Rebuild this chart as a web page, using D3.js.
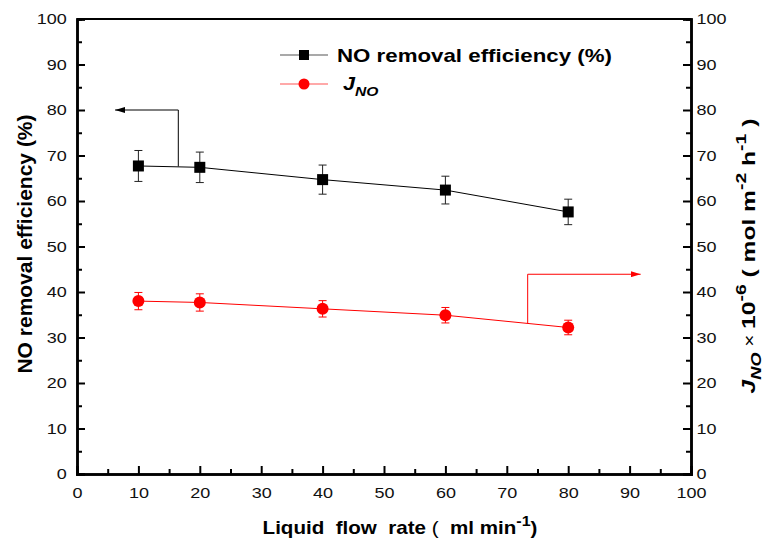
<!DOCTYPE html>
<html>
<head>
<meta charset="utf-8">
<script src="https://cdn.jsdelivr.net/npm/d3@7"></script>
<style>
  body { margin: 0; background: #fff; }
  text { font-family: Arial, "Liberation Sans", sans-serif; }
</style>
</head>
<body>
<script>
// data
var flowRate = [10, 20, 40, 60, 80];
var efficiency = [67.7, 67.4, 64.7, 62.4, 57.6];
var efficiencyErr = [3.4, 3.35, 3.2, 3.05, 2.8];
var jNO = [38.0, 37.7, 36.3, 34.9, 32.2];
var jNOErr = [1.9, 1.9, 1.8, 1.7, 1.6];
var xTicks = [0, 10, 20, 30, 40, 50, 60, 70, 80, 90, 100];
var yTicks = [0, 10, 20, 30, 40, 50, 60, 70, 80, 90, 100];

var width = 764, height = 540;
var m = {left: 77, right: 73, top: 19, bottom: 66};
var stretch = 1.2; // the text in the figure is drawn wide

var svg = d3.select("body").append("svg")
    .attr("width", width)
    .attr("height", height);

var x = d3.scaleLinear().domain([0, 100]).range([m.left, width - m.right]);
var y = d3.scaleLinear().domain([0, 100]).range([height - m.bottom, m.top]);
var y2 = d3.scaleLinear().domain([0, 100]).range([height - m.bottom, m.top]);

// stretch a text element along its baseline so it spans len pixels
function fitText(t, base, len) {
  var w = t.node().getComputedTextLength();
  t.attr("transform", base + " scale(" + (len / w) + ",1)");
}

// arrow heads
var defs = svg.append("defs");
defs.append("marker").attr("id", "arrBlack")
    .attr("viewBox", "0 0 10 6").attr("refX", 10).attr("refY", 3)
    .attr("markerWidth", 10).attr("markerHeight", 6)
    .attr("markerUnits", "userSpaceOnUse").attr("orient", "auto")
    .append("path").attr("d", "M0,0 L10,3 L0,6 Z").attr("fill", "#000");
defs.append("marker").attr("id", "arrRed")
    .attr("viewBox", "0 0 10 6").attr("refX", 10).attr("refY", 3)
    .attr("markerWidth", 10).attr("markerHeight", 6)
    .attr("markerUnits", "userSpaceOnUse").attr("orient", "auto")
    .append("path").attr("d", "M0,0 L10,3 L0,6 Z").attr("fill", "red");

// axes - ticks point inward
var minor = d3.range(5, 100, 10);

var gx = svg.append("g").attr("transform", "translate(0," + y(0) + ")");
gx.call(d3.axisBottom(x).tickValues(xTicks).tickSize(-8).tickPadding(13));
gx.append("g").call(d3.axisBottom(x).tickValues(minor).tickSize(-5).tickFormat(""));

var gy = svg.append("g").attr("transform", "translate(" + x(0) + ",0)");
gy.call(d3.axisLeft(y).tickValues(yTicks).tickSize(-8).tickPadding(8.5));
gy.append("g").call(d3.axisLeft(y).tickValues(minor).tickSize(-5).tickFormat(""));

var gy2 = svg.append("g").attr("transform", "translate(" + x(100) + ",0)");
gy2.call(d3.axisRight(y2).tickValues(yTicks).tickSize(-8).tickPadding(4.5));
gy2.append("g").call(d3.axisRight(y2).tickValues(minor).tickSize(-5).tickFormat(""));

svg.selectAll(".domain").attr("stroke-width", 2.5);
svg.selectAll(".tick line").attr("stroke-width", 2);
svg.selectAll(".tick text").attr("font-size", 15).attr("fill", "#111")
    .attr("transform", "scale(" + stretch + ",1)");

// top frame line
svg.append("line")
    .attr("x1", x(0)).attr("x2", x(100))
    .attr("y1", y(100)).attr("y2", y(100))
    .attr("stroke", "#000").attr("stroke-width", 2);

// NO removal efficiency series
var line1 = d3.line().x(function(d, i){ return x(flowRate[i]); }).y(function(d){ return y(d); });
svg.append("path").datum(efficiency)
    .attr("d", line1).attr("fill", "none").attr("stroke", "#000").attr("stroke-width", 1);

var eb1 = svg.append("g").attr("stroke", "#222").attr("stroke-width", 1);
for (var i = 0; i < flowRate.length; i++) {
  var cx = x(flowRate[i]);
  var yt = y(efficiency[i] + efficiencyErr[i]), yb = y(efficiency[i] - efficiencyErr[i]);
  eb1.append("line").attr("x1", cx).attr("x2", cx).attr("y1", yt).attr("y2", yb);
  eb1.append("line").attr("x1", cx - 4).attr("x2", cx + 4).attr("y1", yt).attr("y2", yt);
  eb1.append("line").attr("x1", cx - 4).attr("x2", cx + 4).attr("y1", yb).attr("y2", yb);
}
svg.append("g").selectAll("rect").data(efficiency).enter().append("rect")
    .attr("x", function(d, i){ return x(flowRate[i]) - 5.5; })
    .attr("y", function(d){ return y(d) - 5.5; })
    .attr("width", 11).attr("height", 11).attr("fill", "#000");

// J_NO series
var line2 = d3.line().x(function(d, i){ return x(flowRate[i]); }).y(function(d){ return y2(d); });
svg.append("path").datum(jNO)
    .attr("d", line2).attr("fill", "none").attr("stroke", "red").attr("stroke-width", 1);

var eb2 = svg.append("g").attr("stroke", "red").attr("stroke-width", 1);
for (var i = 0; i < flowRate.length; i++) {
  var cx = x(flowRate[i]);
  var yt = y2(jNO[i] + jNOErr[i]), yb = y2(jNO[i] - jNOErr[i]);
  eb2.append("line").attr("x1", cx).attr("x2", cx).attr("y1", yt).attr("y2", yb);
  eb2.append("line").attr("x1", cx - 4).attr("x2", cx + 4).attr("y1", yt).attr("y2", yt);
  eb2.append("line").attr("x1", cx - 4).attr("x2", cx + 4).attr("y1", yb).attr("y2", yb);
}
svg.append("g").selectAll("circle").data(jNO).enter().append("circle")
    .attr("cx", function(d, i){ return x(flowRate[i]); })
    .attr("cy", function(d){ return y2(d); })
    .attr("r", 6).attr("fill", "red");

// axis arrows
svg.append("path")
    .attr("d", "M" + x(16.5) + "," + y(67.6) + " V" + y(80) + " H" + x(6.2))
    .attr("fill", "none").attr("stroke", "#000").attr("stroke-width", 1)
    .attr("marker-end", "url(#arrBlack)");
svg.append("path")
    .attr("d", "M" + x(73.4) + "," + y2(33.1) + " V" + y2(43.9) + " H" + x(91.8))
    .attr("fill", "none").attr("stroke", "red").attr("stroke-width", 1)
    .attr("marker-end", "url(#arrRed)");

// legend
var lg = svg.append("g");
lg.append("line").attr("x1", 280).attr("x2", 328).attr("y1", 55).attr("y2", 55)
    .attr("stroke", "#555").attr("stroke-width", 1.2);
lg.append("rect").attr("x", 299).attr("y", 50).attr("width", 10).attr("height", 10).attr("fill", "#000");
var l1 = lg.append("text")
    .attr("font-size", 18).attr("font-weight", "bold").text("NO removal efficiency (%)");
fitText(l1, "translate(337,62)", 275);
lg.append("line").attr("x1", 280).attr("x2", 328).attr("y1", 84).attr("y2", 84)
    .attr("stroke", "#f55").attr("stroke-width", 1.2);
lg.append("circle").attr("cx", 304).attr("cy", 84).attr("r", 5.5).attr("fill", "red");
var lt = lg.append("text")
    .attr("font-size", 18).attr("font-weight", "bold").attr("font-style", "italic")
    .attr("transform", "translate(343,90) scale(" + stretch + ",1)");
lt.append("tspan").text("J");
lt.append("tspan").attr("font-size", 13).attr("dy", 6).text("NO");

// axis titles
svg.append("text")
    .attr("transform", "translate(32,244) rotate(-90)")
    .attr("text-anchor", "middle").attr("font-size", 21).attr("font-weight", "bold")
    .text("NO removal efficiency (%)");

var xt = svg.append("text")
    .attr("text-anchor", "middle").attr("font-size", 18).attr("font-weight", "bold")
    .attr("xml:space", "preserve");
xt.append("tspan").text("Liquid  flow  rate");
xt.append("tspan").attr("font-weight", "normal").text(" (  ");
xt.append("tspan").text("ml min");
xt.append("tspan").attr("font-size", 14).attr("dy", -8).text("-1");
xt.append("tspan").attr("dy", 8).text(")");
fitText(xt, "translate(400,534)", 275);

var rt = svg.append("text")
    .attr("text-anchor", "middle").attr("font-size", 19).attr("font-weight", "bold")
    .attr("xml:space", "preserve");
rt.append("tspan").attr("font-style", "italic").text("J");
rt.append("tspan").attr("font-style", "italic").attr("font-size", 14).attr("dy", 6).text("NO");
rt.append("tspan").attr("dy", -6).attr("font-weight", "normal").attr("font-size", 16).text(" \u00d7 ");
rt.append("tspan").text("10");
rt.append("tspan").attr("font-size", 15).attr("dy", -9).text("-6");
rt.append("tspan").attr("dy", 9).text(" ( mol m");
rt.append("tspan").attr("font-size", 15).attr("dy", -9).text("-2");
rt.append("tspan").attr("dy", 9).text(" h");
rt.append("tspan").attr("font-size", 15).attr("dy", -9).text("-1");
rt.append("tspan").attr("dy", 9).text(" )");
fitText(rt, "translate(755,256) rotate(-90)", 275);
</script>
</body>
</html>
